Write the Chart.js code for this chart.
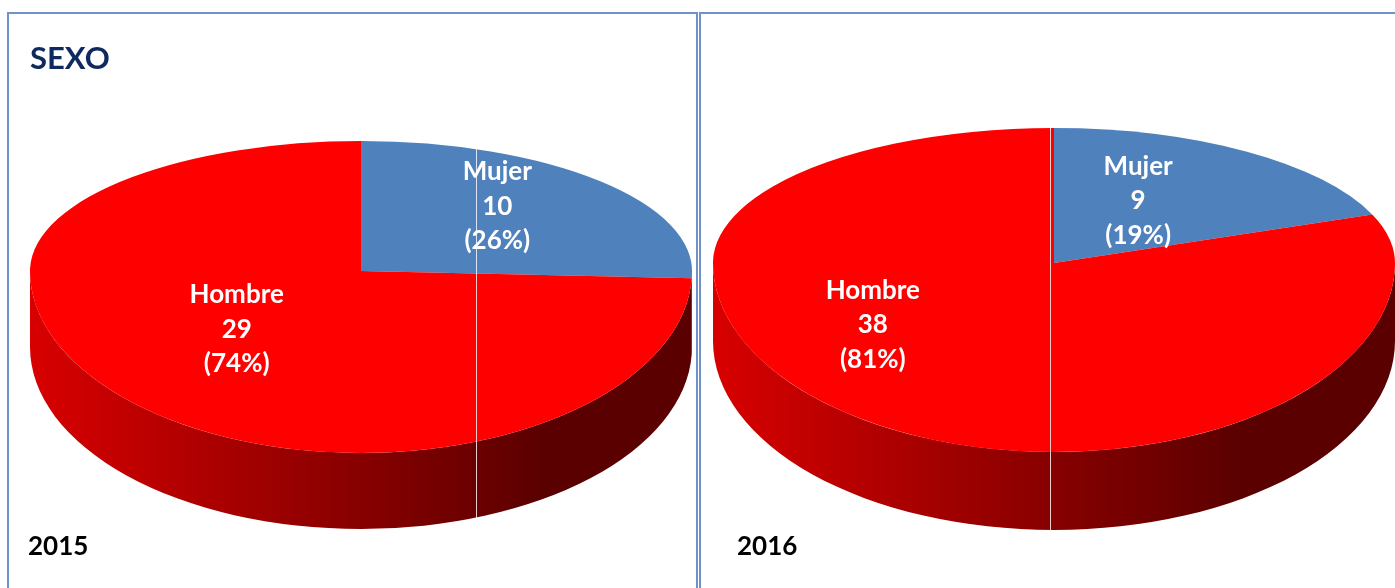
<!DOCTYPE html>
<html>
<head>
<meta charset="utf-8">
<script src="https://cdn.jsdelivr.net/npm/chart.js@4.4.1/dist/chart.umd.min.js"></script>
<style>
    body { margin: 0; background: #fff; width: 1395px; height: 588px; overflow: hidden; position: relative; font-family: Lato, sans-serif; }
    .panel { position: absolute; box-sizing: border-box; border: 2px solid #6f93c9; background: #fff; }
    #panel1 { left: 7px; top: 12px; width: 691px; height: 610px; }
    #panel2 { left: 699px; top: 12px; width: 720px; height: 610px; }
    canvas { position: absolute; top: 0; }
    #c2015 { left: 0; }
    #c2016 { left: 698px; }
    .title { position: absolute; left: 30px; top: 38px; font-weight: bold; font-size: 31px; color: #0f2a5f; }
    .year { position: absolute; top: 529px; font-weight: bold; font-size: 26px; color: #000; }
</style>
</head>
<body>

<div class="panel" id="panel1"></div>
<div class="panel" id="panel2"></div>

<canvas id="c2015" width="698" height="588"></canvas>
<canvas id="c2016" width="697" height="588"></canvas>

<div class="title">SEXO</div>
<div class="year" id="y2015" style="left:28px"></div>
<div class="year" id="y2016" style="left:737px"></div>

<script>
const categories = ["Mujer", "Hombre"];
const years = ["2015", "2016"];
const values2015 = [10, 29];
const values2016 = [9, 38];

const sliceColors = ["#4f81bd", "#fe0000"];
const wallColors = [["#3e6699", "#22385a"], ["#d80000", "#5a0000"]];


// egg shaped top face + front wall, close to the excel 3d pie look
function pie3d(g) {
    return {
        id: "pie3d",

        beforeDatasetsDraw(chart) {
            const ctx = chart.ctx;
            const arcs = chart.getDatasetMeta(0).data;
            const r = arcs[0].outerRadius;
            const k1 = g.ryTop / r;
            const k2 = g.ryBottom / r;

            arcs.forEach((a, i) => {
                const a1 = Math.max(a.startAngle, 0);
                const a2 = Math.min(a.endAngle, Math.PI);
                if (a2 <= a1)
                    return;

                const grad = ctx.createLinearGradient(g.cx - r, 0, g.cx + r, 0);
                grad.addColorStop(0, wallColors[i][0]);
                grad.addColorStop(0.78, wallColors[i][1]);
                grad.addColorStop(1, wallColors[i][1]);

                ctx.beginPath();
                ctx.ellipse(g.cx, g.cy, r, r * k2, 0, a1, a2);
                ctx.ellipse(g.cx, g.cy + g.depth, r, r * k2, 0, a2, a1, true);
                ctx.closePath();
                ctx.fillStyle = grad;
                ctx.fill();
            });

            [[k1, 0, g.cy], [k2, g.cy, chart.height - g.cy]].forEach(([k, y0, h]) => {
                ctx.save();
                ctx.beginPath();
                ctx.rect(0, y0, chart.width, h);
                ctx.clip();
                ctx.translate(g.cx, g.cy);
                ctx.scale(1, k);
                ctx.translate(-arcs[0].x, -arcs[0].y);
                arcs.forEach(a => a.draw(ctx));
                ctx.restore();
            });

            // thin light seam that runs down the picture
            ctx.save();
            ctx.globalCompositeOperation = "source-atop";
            ctx.strokeStyle = "rgba(255,255,255,0.8)";
            ctx.lineWidth = 1;
            ctx.beginPath();
            ctx.moveTo(g.seamX + 0.5, 0);
            ctx.lineTo(g.seamX + 0.5, chart.height);
            ctx.stroke();
            ctx.restore();

            return false;
        },

        afterDraw(chart) {
            const ctx = chart.ctx;
            const arcs = chart.getDatasetMeta(0).data;
            const data = chart.data.datasets[0].data;
            const total = data.reduce((s, v) => s + v, 0);
            const r = arcs[0].outerRadius;

            ctx.save();
            ctx.font = "bold 26px Lato";
            ctx.fillStyle = "#fff";
            ctx.textAlign = "center";
            ctx.textBaseline = "middle";

            arcs.forEach((a, i) => {
                const mid = (a.startAngle + a.endAngle) / 2;
                const d = r * g.labelRadius;
                const v = Math.sin(mid) * d;
                const x = g.cx + Math.cos(mid) * d + g.nudge[i][0];
                const y = g.cy + v * (v < 0 ? g.ryTop : g.ryBottom) / r + g.nudge[i][1];

                const lines = [chart.data.labels[i], data[i], "(" + Math.round(data[i] / total * 100) + "%)"];
                lines.forEach((t, j) => ctx.fillText(t, x, y + (j - 1) * g.lineGap));
            });

            ctx.restore();
        }
    };
}


function makePie(canvas, values, radius, layout) {
    return new Chart(canvas, {
        type: "pie",
        data: {
            labels: categories,
            datasets: [{
                data: values,
                backgroundColor: sliceColors,
                borderWidth: 0,
                radius: radius
            }]
        },
        options: {
            responsive: false,
            animation: false,
            events: [],
            plugins: {
                legend: { display: false },
                tooltip: { enabled: false }
            }
        },
        plugins: [pie3d(layout)]
    });
}


document.getElementById("y2015").textContent = years[0];
document.getElementById("y2016").textContent = years[1];

makePie(c2015, values2015, 331, {
    cx: 361, cy: 271, ryTop: 130, ryBottom: 182, depth: 76,
    labelRadius: 0.55, lineGap: 34.5, seamX: 476,
    nudge: [[5, -15], [7, -11]]
});

makePie(c2016, values2016, 341, {
    cx: 356, cy: 263, ryTop: 135, ryBottom: 189, depth: 78,
    labelRadius: 0.55, lineGap: 34.5, seamX: 352,
    nudge: [[-22, -1], [-75, -24]]
});
</script>
</body>
</html>
